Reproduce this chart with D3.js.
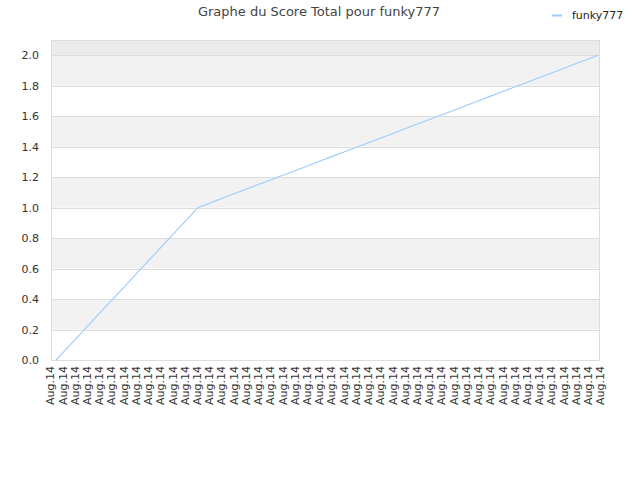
<!DOCTYPE html>
<html><head><meta charset="utf-8">
<script src="https://cdn.jsdelivr.net/npm/d3@7"></script>
<style>body{margin:0;background:#fff}svg{display:block}text{font-family:"DejaVu Sans",sans-serif}</style>
</head><body><svg id="c" width="640" height="480"></svg>
<script>
const title = "Graphe du Score Total pour funky777";
const seriesName = "funky777";
const categories = Array.from({length:46}, () => "Aug.14");
// time positions (in label units) and score values
const times = [0.5, 1, 2, 3, 4, 5, 6, 7, 8, 9, 10, 11, 12, 12.1,
  13, 14, 15, 16, 17, 18, 19, 20, 21, 22, 23, 24, 25, 26, 27, 28, 29, 30,
  31, 32, 33, 34, 35, 36, 37, 38, 39, 40, 41, 42, 43, 44, 44.85];
const scores = [0, 0.043, 0.129, 0.216, 0.302, 0.388, 0.474, 0.560, 0.647, 0.733, 0.819, 0.905, 0.991, 1.0,
  1.027, 1.058, 1.089, 1.119, 1.150, 1.180, 1.211, 1.241, 1.272, 1.302, 1.333, 1.363, 1.394, 1.424, 1.455, 1.485, 1.516, 1.547,
  1.577, 1.608, 1.638, 1.669, 1.699, 1.730, 1.760, 1.791, 1.821, 1.852, 1.882, 1.913, 1.944, 1.974, 2.0];
const yTicks = [0, 0.2, 0.4, 0.6, 0.8, 1.0, 1.2, 1.4, 1.6, 1.8, 2.0];

const svg = d3.select("#c");
const L = 51, R = 600, T = 40, B = 360;
const y = d3.scaleLinear().domain([0, 2.1]).range([B, T]);
const idx = categories.map((_, i) => i);
const x = d3.scalePoint().domain(idx).range([50, 600]);
const xt = d3.scaleLinear().domain([0, categories.length - 1]).range([50, 600]);

// bands
const bandEdges = yTicks.concat([2.1]);
for (let i = 0; i < bandEdges.length - 1; i++) {
  const a = bandEdges[i], b = bandEdges[i+1];
  let fill = (i % 2 === 1) ? "#f2f2f2" : "#ffffff";
  if (i === bandEdges.length - 2) fill = "#ebebeb";
  svg.append("rect").attr("x", L).attr("y", y(b)).attr("width", R - L).attr("height", y(a) - y(b)).attr("fill", fill);
}
// grid
svg.append("g").selectAll("line").data(yTicks).join("line")
  .attr("x1", L).attr("x2", R).attr("y1", d => Math.round(y(d)) + 0.5).attr("y2", d => Math.round(y(d)) + 0.5)
  .attr("stroke", "#dddddd").attr("stroke-width", 1);
svg.append("rect").attr("x", L + 0.5).attr("y", T + 0.5).attr("width", R - L - 1).attr("height", B - T)
  .attr("fill", "none").attr("stroke", "#dddddd");

// y axis labels
const yAxis = d3.axisLeft(y).tickValues(yTicks).tickFormat(d3.format(".1f")).tickSize(0).tickPadding(0);
const gy = svg.append("g").attr("transform", `translate(${L - 12},0)`).call(yAxis);
gy.select(".domain").remove();
gy.selectAll("text").attr("fill", "#333").style("font-size", "11px").style("font-family", "DejaVu Sans");

// x axis labels
const xAxis = d3.axisBottom(x).tickFormat(i => categories[i]).tickSize(0).tickPadding(0);
const gx = svg.append("g").attr("transform", `translate(0,${B + 6})`).call(xAxis);
gx.select(".domain").remove();
gx.selectAll("text").attr("fill", "#333").style("font-size", "11px").style("font-family", "DejaVu Sans")
  .attr("text-anchor", "end").attr("dy", "0.35em").attr("transform", "rotate(-90)").attr("x", 0).attr("y", 0);

// line
const pts = times.map((t, i) => [t, scores[i]]);
const line = d3.line().x(d => xt(d[0])).y(d => y(d[1]));
svg.append("path").datum(pts).attr("d", line).attr("fill", "none").attr("stroke", "#99ccff").attr("stroke-width", 1.1);

// title
svg.append("text").attr("x", 319).attr("y", 16).attr("text-anchor", "middle").attr("fill", "#444")
  .style("font-size", "13px").text(title);
// legend
svg.append("line").attr("x1", 552).attr("x2", 562).attr("y1", 15.5).attr("y2", 15.5).attr("stroke", "#99ccff").attr("stroke-width", 2);
svg.append("text").attr("x", 572).attr("y", 19).attr("fill", "#222").style("font-size", "11px").text(seriesName);
</script></body></html>
